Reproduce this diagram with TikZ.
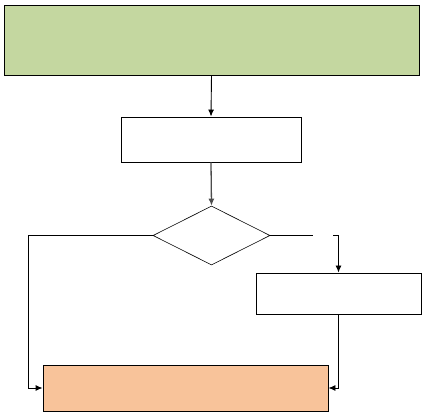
\documentclass[tikz,border=0pt]{standalone}
\usetikzlibrary{arrows.meta,shapes.geometric}

\definecolor{boxgreen}{RGB}{196,215,160}
\definecolor{boxorange}{RGB}{248,195,154}

\begin{document}
\begin{tikzpicture}[x=1pt, y=-1pt, >={Latex[length=7pt,width=6pt]}, line width=0.9pt]
  \useasboundingbox (0,0) rectangle (424,414);
  \tikzset{
    blk/.style={draw, inner sep=0pt},
    dec/.style={draw, shape=diamond, inner sep=0pt, line width=0.6pt}
  }

  \node[blk, fill=boxgreen, minimum width=415pt, minimum height=70pt] (top) at (211.5,40) {};
  \node[blk, minimum width=180pt, minimum height=45pt] (prep) at (211,139.5) {};
  \node[dec, minimum width=117pt, minimum height=59pt] (check) at (211.5,235.5) {};
  \node[blk, minimum width=165pt, minimum height=41pt] (side) at (338.5,293.5) {};
  \node[blk, fill=boxorange, minimum width=285pt, minimum height=46pt] (done) at (185.5,388) {};

  \coordinate (gapL) at (313,235.5);
  \coordinate (gapR) at (333,235.5);
  \coordinate (bend) at (28,235.5);

  \draw[->] (top.south) -- (prep.north);
  \draw[->, gray!60!black, line width=1.3pt] (prep.south) -- (check.north);

  \draw[->] (check.west) -- (bend) |- (done.west);
  \draw (check.east) -- (gapL);
  \draw[->] (gapR) -| (side.north);
  \draw[->] (side.south) |- (done.east);
\end{tikzpicture}
\end{document}
